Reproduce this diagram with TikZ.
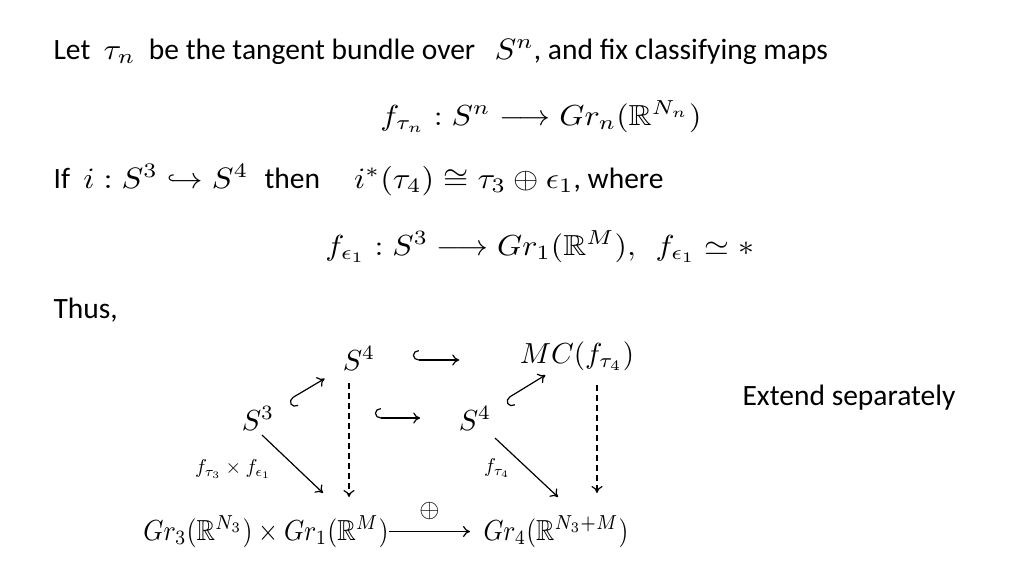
\documentclass[tikz,border=0pt]{standalone}
\usepackage{amsmath,amssymb}
\usepackage{fontspec}
\setmainfont{Carlito}
\usetikzlibrary{arrows.meta,calc}
\newcommand{\wm}[1]{\scalebox{1.1}[1]{$#1$}}
\tikzset{
  txt/.style={inner sep=0pt, scale=2.95},
  mth/.style={inner sep=0pt, scale=2.9},
  lbl/.style={inner sep=0pt, scale=2.0},
  arr/.style={line width=1.2pt, -{To[length=7pt,width=11pt]}},
  hk/.style={line width=1.2pt, {Hooks[right,length=6pt,width=20pt]}-{To[length=7pt,width=11pt]}},
  hkl/.style={line width=1.2pt, {Hooks[left,length=6pt,width=20pt]}-{To[length=7pt,width=11pt]}},
  dsh/.style={arr, dash pattern=on 6pt off 4pt},
}
\begin{document}
\begin{tikzpicture}[x=1pt,y=-1pt]
\useasboundingbox (0,0) rectangle (1024,576);
\node[txt, anchor=base west] (l1) at (53,59) {Let\ \ \wm{\tau_n}\ \ be the tangent bundle over\ \ \hspace{2pt}\wm{S^n},\ and fix classifying maps};
\node[mth, anchor=base] (l2) at (541,125) {\wm{f_{\tau_n}:S^n\longrightarrow Gr_n(\mathbb{R}^{N_n})}};
\node[txt, anchor=base west] (l3) at (53,188) {If\ \ \wm{i:S^3\hookrightarrow S^4}\ \ \hspace{1pt}then\ \ \hspace{7pt}\wm{i^*(\tau_4)\cong\tau_3\oplus\epsilon_1}, where};
\node[mth, anchor=base] (l4) at (540,255) {\wm{f_{\epsilon_1}:S^3\longrightarrow Gr_1(\mathbb{R}^M),\ \ f_{\epsilon_1}\simeq *}};
\node[txt, anchor=base west] (thus) at (53,318) {Thus,};
\node[txt, anchor=base west] (ext) at (742,405) {Extend separately};
% diagram
\node[mth, anchor=base] (S4a) at (359,370) {$S^4$};
\node[mth, anchor=base] (MC) at (577,363) {$MC(f_{\tau_4})$};
\node[mth, anchor=base] (S3) at (258,430) {$S^3$};
\node[mth, anchor=base] (S4b) at (475,430) {$S^4$};
\node[mth, xscale=0.885, anchor=base] (G1) at (266,540) {$Gr_3(\mathbb{R}^{N_3})\times Gr_1(\mathbb{R}^M)$};
\node[mth, xscale=0.875, anchor=base] (G2) at (556,540) {$Gr_4(\mathbb{R}^{N_3+M})$};
% horizontal hooks
\coordinate (h1a) at ($(S4a.base east)+(37,-10)$);
\draw[hk, shorten >=60pt] (h1a) -- (h1a -| MC.west);
\coordinate (h2a) at ($(S3.base east)+(100,-12)$);
\draw[hk, shorten >=38pt] (h2a) -- (h2a -| S4b.west);
% diagonal hooks
\draw[hkl, shorten <=35pt, shorten >=40pt] (S3.center) -- (S4a.center);
\draw[hkl, shorten <=35pt, shorten >=37pt] (S4b.center) -- (MC.center);
% diagonal maps
\draw[arr] ($(S3.base)+(4,5)$) -- ($(G1.base)+(57,-47)$);
\draw[arr] ($(S4b.base)+(20,8)$) -- ($(G2.base)+(2,-43)$);
\node[lbl] (lab1) at (233,469) {$f_{\tau_3}\times f_{\epsilon_1}$};
\node[lbl] (lab2) at (497,468) {$f_{\tau_4}$};
% dashed
\coordinate (d1a) at ($(S4a.base)+(-10,13)$);
\coordinate (d1b) at ($(G1.base)+(0,-43)$);
\draw[dsh] (d1a) -- (d1a |- d1b);
\coordinate (d2a) at ($(MC.base)+(20,22)$);
\coordinate (d2b) at ($(G2.base)+(0,-47)$);
\draw[dsh] (d2a) -- (d2a |- d2b);
% bottom
\coordinate (ba) at ($(G1.base east)+(0,-8.5)$);
\draw[arr, shorten >=13pt] (ba) -- (ba -| G2.west) node[pos=0.43, above=10pt, inner sep=0pt, scale=2.6] (op) {$\oplus$};
\end{tikzpicture}
\end{document}
